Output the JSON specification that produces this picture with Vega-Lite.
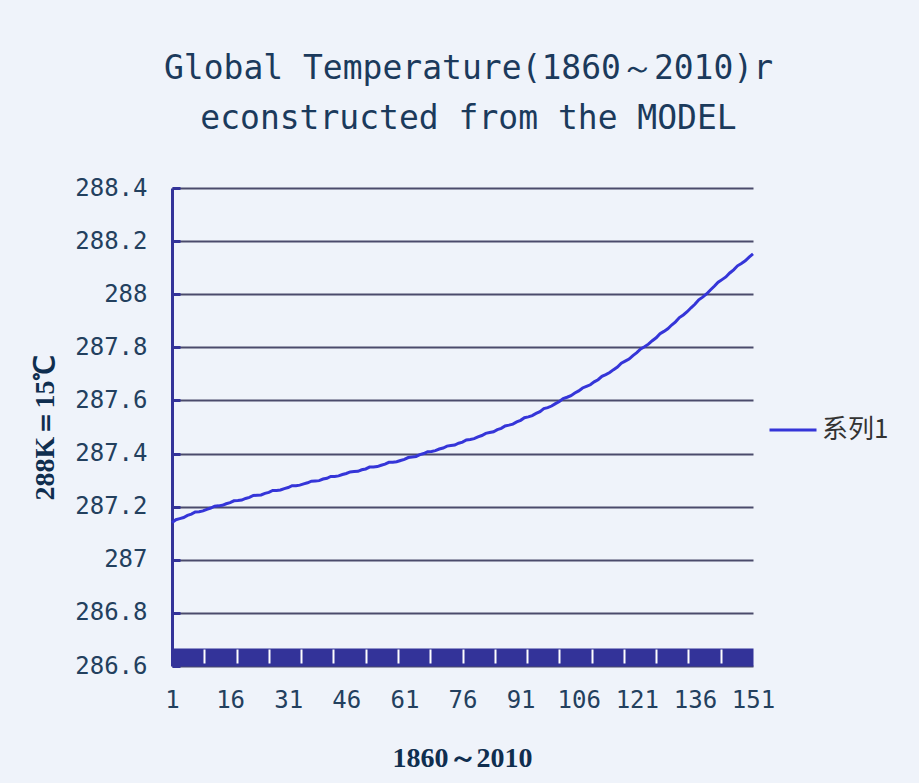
{
  "$schema": "https://vega.github.io/schema/vega-lite/v6.json",
  "autosize": "none",
  "width": 581,
  "height": 478,
  "padding": {"left": 172, "top": 188, "right": 166, "bottom": 117},
  "background": "#eff3fa",
  "config": {"view": {"stroke": null}},
  "title": {
    "text": ["Global Temperature(1860～2010)r", "econstructed from the MODEL"],
    "font": "DejaVu Sans Mono",
    "fontSize": 33,
    "fontWeight": "normal",
    "color": "#1b3a5c",
    "anchor": "middle",
    "lineHeight": 50,
    "offset": 40,
    "dx": 6
  },
  "data": {"values": [
    {"index":1,"temperature":287.140},{"index":2,"temperature":287.151},{"index":3,"temperature":287.155},{"index":4,"temperature":287.159},{"index":5,"temperature":287.167},
    {"index":6,"temperature":287.172},{"index":7,"temperature":287.180},{"index":8,"temperature":287.181},{"index":9,"temperature":287.184},{"index":10,"temperature":287.190},
    {"index":11,"temperature":287.195},{"index":12,"temperature":287.202},{"index":13,"temperature":287.203},{"index":14,"temperature":287.205},{"index":15,"temperature":287.211},
    {"index":16,"temperature":287.215},{"index":17,"temperature":287.222},{"index":18,"temperature":287.223},{"index":19,"temperature":287.225},{"index":20,"temperature":287.231},
    {"index":21,"temperature":287.235},{"index":22,"temperature":287.242},{"index":23,"temperature":287.243},{"index":24,"temperature":287.244},{"index":25,"temperature":287.250},
    {"index":26,"temperature":287.254},{"index":27,"temperature":287.261},{"index":28,"temperature":287.261},{"index":29,"temperature":287.263},{"index":30,"temperature":287.268},
    {"index":31,"temperature":287.272},{"index":32,"temperature":287.279},{"index":33,"temperature":287.279},{"index":34,"temperature":287.281},{"index":35,"temperature":287.286},
    {"index":36,"temperature":287.290},{"index":37,"temperature":287.296},{"index":38,"temperature":287.297},{"index":39,"temperature":287.298},{"index":40,"temperature":287.304},
    {"index":41,"temperature":287.307},{"index":42,"temperature":287.314},{"index":43,"temperature":287.314},{"index":44,"temperature":287.316},{"index":45,"temperature":287.321},
    {"index":46,"temperature":287.325},{"index":47,"temperature":287.331},{"index":48,"temperature":287.332},{"index":49,"temperature":287.333},{"index":50,"temperature":287.339},
    {"index":51,"temperature":287.342},{"index":52,"temperature":287.349},{"index":53,"temperature":287.349},{"index":54,"temperature":287.351},{"index":55,"temperature":287.356},
    {"index":56,"temperature":287.360},{"index":57,"temperature":287.367},{"index":58,"temperature":287.367},{"index":59,"temperature":287.369},{"index":60,"temperature":287.374},
    {"index":61,"temperature":287.378},{"index":62,"temperature":287.385},{"index":63,"temperature":287.387},{"index":64,"temperature":287.389},{"index":65,"temperature":287.396},
    {"index":66,"temperature":287.400},{"index":67,"temperature":287.407},{"index":68,"temperature":287.408},{"index":69,"temperature":287.411},{"index":70,"temperature":287.417},
    {"index":71,"temperature":287.421},{"index":72,"temperature":287.428},{"index":73,"temperature":287.430},{"index":74,"temperature":287.432},{"index":75,"temperature":287.439},
    {"index":76,"temperature":287.443},{"index":77,"temperature":287.451},{"index":78,"temperature":287.453},{"index":79,"temperature":287.456},{"index":80,"temperature":287.463},
    {"index":81,"temperature":287.468},{"index":82,"temperature":287.476},{"index":83,"temperature":287.479},{"index":84,"temperature":287.482},{"index":85,"temperature":287.490},
    {"index":86,"temperature":287.495},{"index":87,"temperature":287.504},{"index":88,"temperature":287.507},{"index":89,"temperature":287.511},{"index":90,"temperature":287.519},
    {"index":91,"temperature":287.525},{"index":92,"temperature":287.535},{"index":93,"temperature":287.538},{"index":94,"temperature":287.543},{"index":95,"temperature":287.551},
    {"index":96,"temperature":287.558},{"index":97,"temperature":287.569},{"index":98,"temperature":287.573},{"index":99,"temperature":287.579},{"index":100,"temperature":287.588},
    {"index":101,"temperature":287.596},{"index":102,"temperature":287.607},{"index":103,"temperature":287.612},{"index":104,"temperature":287.618},{"index":105,"temperature":287.628},
    {"index":106,"temperature":287.636},{"index":107,"temperature":287.647},{"index":108,"temperature":287.653},{"index":109,"temperature":287.659},{"index":110,"temperature":287.670},
    {"index":111,"temperature":287.678},{"index":112,"temperature":287.691},{"index":113,"temperature":287.697},{"index":114,"temperature":287.705},{"index":115,"temperature":287.716},
    {"index":116,"temperature":287.726},{"index":117,"temperature":287.740},{"index":118,"temperature":287.748},{"index":119,"temperature":287.756},{"index":120,"temperature":287.769},
    {"index":121,"temperature":287.780},{"index":122,"temperature":287.794},{"index":123,"temperature":287.802},{"index":124,"temperature":287.812},{"index":125,"temperature":287.825},
    {"index":126,"temperature":287.836},{"index":127,"temperature":287.851},{"index":128,"temperature":287.860},{"index":129,"temperature":287.870},{"index":130,"temperature":287.884},
    {"index":131,"temperature":287.896},{"index":132,"temperature":287.912},{"index":133,"temperature":287.922},{"index":134,"temperature":287.934},{"index":135,"temperature":287.949},
    {"index":136,"temperature":287.962},{"index":137,"temperature":287.979},{"index":138,"temperature":287.989},{"index":139,"temperature":288.001},{"index":140,"temperature":288.016},
    {"index":141,"temperature":288.030},{"index":142,"temperature":288.045},{"index":143,"temperature":288.055},{"index":144,"temperature":288.065},{"index":145,"temperature":288.080},
    {"index":146,"temperature":288.092},{"index":147,"temperature":288.107},{"index":148,"temperature":288.116},{"index":149,"temperature":288.126},{"index":150,"temperature":288.140},
    {"index":151,"temperature":288.152}
  ]},
  "layer": [
    {
      "mark": {"type": "line", "strokeWidth": 3},
      "encoding": {
        "x": {
          "field": "index",
          "type": "quantitative",
          "scale": {"domain": [1, 151], "nice": false, "zero": false},
          "axis": {
            "orient": "bottom",
            "values": [1, 16, 31, 46, 61, 76, 91, 106, 121, 136, 151],
            "grid": false,
            "ticks": false,
            "domainColor": "#333399",
            "domainWidth": 18,
            "offset": -9,
            "labelFlush": false,
            "labelFont": "DejaVu Sans Mono",
            "labelFontSize": 24,
            "labelColor": "#23405e",
            "labelPadding": 31,
            "title": "1860～2010",
            "titleFont": "Liberation Serif",
            "titleFontSize": 28,
            "titleFontWeight": "bold",
            "titleColor": "#0f2e4f",
            "titleX": 290,
            "titleY": 101,
            "titleBaseline": "middle",
            "titleAlign": "center"
          }
        },
        "y": {
          "field": "temperature",
          "type": "quantitative",
          "scale": {"domain": [286.6, 288.4], "nice": false, "zero": false},
          "axis": {
            "values": [286.6, 286.8, 287, 287.2, 287.4, 287.6, 287.8, 288, 288.2, 288.4],
            "labelExpr": "format(datum.value, '~g')",
            "grid": true,
            "gridColor": "#4b4b6b",
            "gridWidth": 2,
            "domainColor": "#333399",
            "domainWidth": 3,
            "tickColor": "#333399",
            "tickWidth": 3,
            "tickSize": -8,
            "labelFont": "DejaVu Sans Mono",
            "labelFontSize": 24,
            "labelColor": "#23405e",
            "labelPadding": 33,
            "title": "288K＝15℃",
            "titleFont": "Liberation Serif",
            "titleFontSize": 28,
            "titleFontWeight": "bold",
            "titleColor": "#0f2e4f",
            "titleAngle": -90,
            "titleX": -127,
            "titleY": 239,
            "titleBaseline": "middle",
            "titleAlign": "center"
          }
        },
        "color": {
          "datum": "系列1",
          "scale": {"range": ["#3535d8"]},
          "legend": {
            "orient": "none",
            "legendX": 596,
            "legendY": 217,
            "title": null,
            "symbolType": "stroke",
            "symbolStrokeWidth": 3,
            "symbolSize": 2209,
            "labelFont": "Noto Sans CJK SC",
            "labelFontSize": 26,
            "labelColor": "#333333",
            "labelOffset": 4
          }
        }
      }
    },
    {
      "mark": {"type": "point", "opacity": 0},
      "encoding": {
        "x": {
          "field": "index",
          "type": "quantitative",
          "scale": {"domain": [1, 151], "nice": false, "zero": false},
          "axis": {
            "orient": "top",
            "offset": -475,
            "values": [9.333, 17.667, 26, 34.333, 42.667, 51, 59.333, 67.667, 76, 84.333, 92.667, 101, 109.333, 117.667, 126, 134.333, 142.667],
            "domain": false,
            "labels": false,
            "grid": false,
            "ticks": true,
            "tickColor": "#ffffff",
            "tickWidth": 2,
            "tickSize": 14,
            "title": null,
            "zindex": 2
          }
        }
      }
    }
  ],
  "resolve": {"scale": {"x": "independent"}}
}
